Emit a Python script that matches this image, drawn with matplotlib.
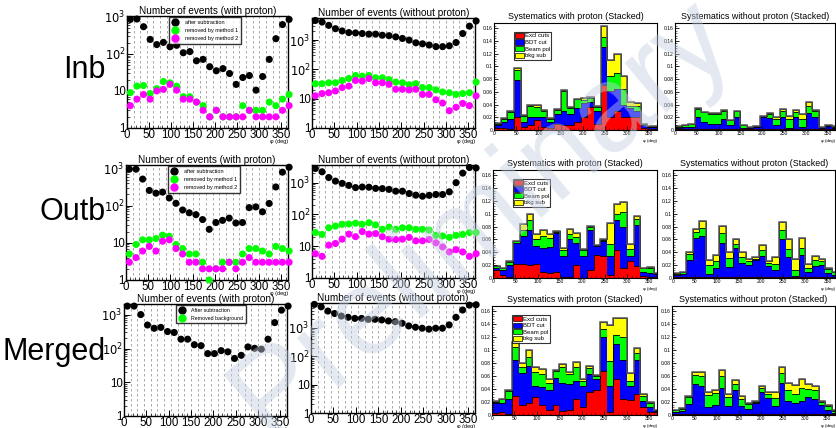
import matplotlib.pyplot as plt
import numpy as np
from matplotlib.patches import Patch
from matplotlib.lines import Line2D
from matplotlib.ticker import FixedLocator, FixedFormatter, MultipleLocator, NullFormatter

plt.rcParams["font.family"] = ["Liberation Sans", "DejaVu Sans"]

# phi bins (15 deg), the last one repeats the first bin past 360
phi_centers = np.arange(7.5, 375, 15)
phi_edges = np.arange(0, 390, 15)

# ---- event counts, Inb
inb_p_after = [850, 870, 540, 245, 178, 204, 155, 170, 107, 115, 65, 71, 45, 35, 40, 29.5, 15, 23, 26, 10.5, 24.5, 71, 257, 617, 850]
inb_p_m1 = [9, 13.5, 14, 8.5, 11.5, 18, 16.5, 13.5, 7, 7, 5, 4, 2, 3, 2, 2, 2, 4, 3, 3, 3, 5, 4, 6, 8]
inb_p_m2 = [4, 6, 8, 6, 10, 11, 15, 10.5, 6, 6, 5, 3, 2, 3, 2, 2, 2, 2, 3, 2, 2, 2, 2, 3, 4]
inb_n_after = [4700, 4150, 3200, 2460, 2060, 1810, 1760, 1680, 1600, 1600, 1470, 1420, 1290, 1140, 1000, 810, 750, 680, 600, 600, 640, 830, 1680, 3000, 4500]
inb_n_m1 = [32.5, 32.5, 35, 35, 42, 49, 62, 59, 62, 52, 52, 45, 37, 35, 30, 32.5, 24, 24, 20, 17, 16, 14, 15, 16, 37]
inb_n_m2 = [12.5, 15, 16, 18.4, 24, 27, 42, 40, 49, 35, 35, 31, 21, 21, 20, 21, 14, 14, 9.2, 7.1, 3.9, 5.1, 6.9, 5.8, 12.5]

# ---- event counts, Outb
outb_p_after = [950, 950, 515, 255, 215, 230, 160, 115, 76, 64, 57, 42, 23, 35, 40, 46, 34, 35, 88, 92, 68, 114, 316, 790, 1070]
outb_p_m1 = [5, 9, 12, 12, 13, 16, 15, 9, 7, 5, 5, 3, 1, 2, 3, 3, 3, 5, 7, 7, 6, 5, 8, 7, 6]
outb_p_m2 = [3, 4, 6, 8, 6, 11, 12, 7, 5, 3, 3, 2, 2, 2, 2, 3, 2, 3, 4, 3, 3, 3, 3, 3, 3]
outb_n_after = [2800, 2200, 1450, 1120, 950, 820, 700, 730, 720, 660, 650, 615, 540, 540, 455, 405, 375, 400, 425, 425, 515, 1000, 2000, 3000, 2900]
outb_n_m1 = [27, 23.5, 38, 43, 49, 50, 53, 49, 55, 47, 34, 40, 34, 38, 38, 34, 34, 32, 22, 21, 19, 22, 23.5, 27, 27]
outb_n_m2 = [5.8, 4.8, 10.8, 12.2, 16.7, 24, 20, 29, 24, 25, 20, 16.7, 16.3, 16.7, 19, 14.8, 14.8, 16.3, 12.8, 9.5, 6.6, 7.8, 6.6, 4.8, 5.8]

# ---- event counts, Merged
mrg_p_after = [1820, 1820, 1020, 500, 400, 425, 320, 300, 190, 190, 130, 122, 71, 71, 87, 80, 51, 63, 112, 102, 96, 190, 590, 1380, 1820]
mrg_p_bkg = [15.6, 24.5, 29, 23, 27, 38, 34, 24.5, 15.6, 13, 10.7, 7.6, 3.4, 5.7, 5.7, 5.7, 5.7, 10, 10.7, 10.7, 10, 10.7, 12.5, 14, 15]
mrg_n_after = [6700, 5500, 3900, 3200, 2600, 2350, 2150, 2150, 2000, 2000, 1900, 1750, 1650, 1450, 1170, 1050, 970, 900, 970, 970, 1270, 2350, 4250, 6300, 6500]
mrg_n_bkg = [18.5, 20, 26, 28.5, 39, 51, 59, 62, 67, 55, 51, 47, 34, 36, 36, 34, 27.5, 28.5, 20, 15.3, 11, 12.7, 13.4, 10.8, 18.5]

# ---- systematics, stacked: top of each layer (Excl cuts, +BDT cut, +Beam pol, +bkg sub)
inb_p_excl = [0.003, 0.003, 0.002, 0.02, 0.004, 0.008, 0.015, 0.005, 0.003, 0.01, 0.008, 0.008, 0.012, 0.02, 0.036, 0.01, 0.07, 0.02, 0.03, 0.02, 0.02, 0.02, 0.003, 0.002, 0.002]
inb_p_bdt = [0.008, 0.012, 0.018, 0.078, 0.012, 0.02, 0.02, 0.02, 0.012, 0.025, 0.03, 0.025, 0.034, 0.043, 0.044, 0.03, 0.13, 0.062, 0.065, 0.04, 0.035, 0.03, 0.008, 0.004, 0.004]
inb_p_pol = [0.01, 0.018, 0.028, 0.094, 0.022, 0.037, 0.036, 0.03, 0.018, 0.032, 0.062, 0.035, 0.048, 0.047, 0.05, 0.036, 0.146, 0.085, 0.09, 0.065, 0.037, 0.038, 0.009, 0.005, 0.005]
inb_p_bkg = [0.011, 0.019, 0.03, 0.098, 0.024, 0.04, 0.039, 0.031, 0.019, 0.033, 0.063, 0.036, 0.049, 0.05, 0.052, 0.038, 0.164, 0.11, 0.12, 0.085, 0.044, 0.043, 0.01, 0.006, 0.006]

inb_n_excl = [0.001, 0.001, 0.001, 0.001, 0.001, 0.001, 0.001, 0.001, 0.001, 0.001, 0.001, 0.001, 0.001, 0.001, 0.001, 0.001, 0.001, 0.001, 0.001, 0.001, 0.001, 0.001, 0.001, 0.001, 0.001]
inb_n_bdt = [0.003, 0.004, 0.005, 0.02, 0.013, 0.01, 0.01, 0.017, 0.008, 0.02, 0.003, 0.003, 0.005, 0.02, 0.019, 0.008, 0.02, 0.003, 0.02, 0.005, 0.027, 0.02, 0.003, 0.007, 0.003]
inb_n_pol = [0.005, 0.008, 0.01, 0.033, 0.028, 0.025, 0.025, 0.03, 0.015, 0.03, 0.008, 0.004, 0.007, 0.022, 0.025, 0.018, 0.03, 0.018, 0.028, 0.018, 0.038, 0.03, 0.005, 0.008, 0.005]
inb_n_bkg = [0.006, 0.008, 0.01, 0.034, 0.029, 0.027, 0.027, 0.032, 0.015, 0.03, 0.008, 0.004, 0.007, 0.022, 0.026, 0.02, 0.033, 0.022, 0.032, 0.025, 0.044, 0.032, 0.005, 0.008, 0.006]

outb_p_excl = [0.012, 0.005, 0.002, 0.022, 0.022, 0.021, 0.022, 0.01, 0.008, 0.01, 0.002, 0.002, 0.02, 0.0, 0.013, 0.036, 0.034, 0.005, 0.043, 0.015, 0.026, 0.018, 0.003, 0.002, 0.002]
outb_p_bdt = [0.016, 0.012, 0.02, 0.055, 0.065, 0.074, 0.05, 0.046, 0.048, 0.07, 0.035, 0.06, 0.055, 0.035, 0.075, 0.05, 0.058, 0.035, 0.09, 0.08, 0.035, 0.082, 0.01, 0.008, 0.006]
outb_p_pol = [0.018, 0.015, 0.025, 0.057, 0.074, 0.09, 0.06, 0.066, 0.062, 0.072, 0.044, 0.068, 0.064, 0.043, 0.079, 0.051, 0.059, 0.053, 0.1, 0.103, 0.045, 0.092, 0.015, 0.016, 0.008]
outb_p_bkg = [0.018, 0.015, 0.027, 0.058, 0.084, 0.1, 0.068, 0.075, 0.068, 0.073, 0.047, 0.077, 0.07, 0.045, 0.081, 0.051, 0.06, 0.086, 0.115, 0.118, 0.053, 0.097, 0.016, 0.017, 0.008]

outb_n_excl = [0.001, 0.001, 0.001, 0.001, 0.001, 0.001, 0.001, 0.001, 0.001, 0.001, 0.001, 0.001, 0.001, 0.001, 0.001, 0.001, 0.001, 0.001, 0.001, 0.001, 0.001, 0.001, 0.001, 0.001, 0.001]
outb_n_bdt = [0.004, 0.006, 0.028, 0.063, 0.065, 0.007, 0.015, 0.055, 0.017, 0.047, 0.023, 0.02, 0.028, 0.035, 0.018, 0.013, 0.06, 0.032, 0.003, 0.036, 0.01, 0.018, 0.02, 0.008, 0.005]
outb_n_pol = [0.007, 0.009, 0.038, 0.072, 0.078, 0.02, 0.027, 0.07, 0.031, 0.053, 0.033, 0.026, 0.03, 0.044, 0.024, 0.022, 0.074, 0.045, 0.013, 0.046, 0.015, 0.028, 0.027, 0.014, 0.01]
outb_n_bkg = [0.008, 0.01, 0.04, 0.076, 0.088, 0.028, 0.036, 0.081, 0.04, 0.06, 0.041, 0.029, 0.032, 0.051, 0.026, 0.033, 0.087, 0.06, 0.03, 0.062, 0.022, 0.034, 0.029, 0.016, 0.01]

mrg_p_excl = [0.003, 0.004, 0.002, 0.03, 0.016, 0.019, 0.027, 0.015, 0.008, 0.015, 0.006, 0.007, 0.024, 0.013, 0.036, 0.038, 0.068, 0.005, 0.056, 0.024, 0.023, 0.033, 0.012, 0.005, 0.004]
mrg_p_bdt = [0.018, 0.018, 0.025, 0.085, 0.065, 0.075, 0.045, 0.043, 0.038, 0.057, 0.05, 0.048, 0.052, 0.045, 0.063, 0.055, 0.12, 0.045, 0.11, 0.085, 0.045, 0.085, 0.022, 0.012, 0.006]
mrg_p_pol = [0.02, 0.024, 0.037, 0.105, 0.074, 0.09, 0.066, 0.063, 0.05, 0.068, 0.074, 0.063, 0.074, 0.053, 0.072, 0.06, 0.133, 0.083, 0.124, 0.12, 0.053, 0.095, 0.03, 0.018, 0.008]
mrg_p_bkg = [0.021, 0.024, 0.039, 0.112, 0.08, 0.1, 0.074, 0.071, 0.056, 0.07, 0.078, 0.066, 0.081, 0.056, 0.076, 0.062, 0.143, 0.138, 0.15, 0.15, 0.065, 0.103, 0.032, 0.02, 0.008]

mrg_n_excl = [0.001, 0.001, 0.001, 0.001, 0.001, 0.001, 0.001, 0.001, 0.001, 0.001, 0.001, 0.001, 0.001, 0.001, 0.001, 0.001, 0.001, 0.001, 0.001, 0.001, 0.001, 0.001, 0.001, 0.001, 0.001]
mrg_n_bdt = [0.004, 0.006, 0.017, 0.048, 0.045, 0.012, 0.016, 0.042, 0.014, 0.038, 0.014, 0.01, 0.018, 0.035, 0.026, 0.014, 0.05, 0.022, 0.018, 0.022, 0.028, 0.025, 0.015, 0.008, 0.003]
mrg_n_pol = [0.007, 0.01, 0.028, 0.062, 0.06, 0.031, 0.034, 0.06, 0.027, 0.048, 0.024, 0.017, 0.02, 0.042, 0.033, 0.026, 0.064, 0.038, 0.032, 0.042, 0.04, 0.039, 0.02, 0.014, 0.006]
mrg_n_bkg = [0.008, 0.011, 0.03, 0.066, 0.067, 0.036, 0.039, 0.069, 0.033, 0.054, 0.029, 0.019, 0.022, 0.045, 0.036, 0.035, 0.074, 0.05, 0.046, 0.055, 0.048, 0.045, 0.022, 0.016, 0.007]

row_names = ["Inb", "Outb", "Merged"]
sys_labels = ["Excl cuts", "BDT cut", "Beam pol", "bkg sub"]
sys_colors = ["#ff0000", "#0000ff", "#00ff00", "#ffff00"]

W, H = 837, 428


def px_axes(fig, x0, y0, x1, y1):
    return fig.add_axes([x0 / W, 1 - y1 / H, (x1 - x0) / W, (y1 - y0) / H])


def style_frame(ax, lw=1.0):
    for s in ax.spines.values():
        s.set_linewidth(lw)
    ax.tick_params(direction="in", which="both", top=False, right=False)


def counts_panel(ax, series, colors, ymax, title, legend=None, legend_anchor=None):
    style_frame(ax)
    ax.set_yscale("log")
    ax.set_xlim(0, 365)
    ax.set_ylim(1, ymax)
    for x in np.arange(15, 365, 15):
        ax.axvline(x, color="#9a9a9a", lw=0.6, ls=(0, (3, 3)), zorder=0)
    for vals, c in zip(series, colors):
        ax.scatter(phi_centers, vals, s=26, color=c, edgecolors="none", zorder=3, clip_on=False)
    ax.xaxis.set_major_locator(MultipleLocator(50))
    ax.xaxis.set_minor_locator(MultipleLocator(10))
    ax.yaxis.set_major_locator(FixedLocator([1, 10, 100, 1000]))
    ax.yaxis.set_major_formatter(FixedFormatter(["1", "10", "$10^2$", "$10^3$"]))
    ax.yaxis.set_minor_locator(FixedLocator([m * 10 ** d for d in range(4) for m in range(2, 10)]))
    ax.yaxis.set_minor_formatter(NullFormatter())
    ax.tick_params(labelsize=8.3, pad=1, length=4, width=0.7)
    ax.tick_params(which="minor", length=2, width=0.5)
    ax.set_title(title, fontsize=7.2, pad=1)
    ax.text(1.0, -0.1, "φ (deg)", transform=ax.transAxes, ha="right", va="top", fontsize=4.0)
    if legend:
        leg_handles = [Line2D([], [], ls="none", marker="o", ms=5, color=c) for c in colors]
        leg = ax.legend(leg_handles, legend, loc="upper left", bbox_to_anchor=legend_anchor[0],
                        fontsize=legend_anchor[1], frameon=True, fancybox=False, borderpad=0.5,
                        labelspacing=0.55, handletextpad=1.2, handlelength=1.2, borderaxespad=0)
        leg.get_frame().set_edgecolor("black")
        leg.get_frame().set_linewidth(1.0)


def stack_panel(ax, tops, title, legend=False):
    style_frame(ax, 0.8)
    ax.set_xlim(0, 367)
    ax.set_ylim(0, 0.168)
    prev = np.zeros(len(phi_centers))
    for top, c in zip(tops, sys_colors):
        top = np.maximum(np.asarray(top), prev)
        ax.stairs(top, phi_edges, baseline=prev, fill=True, color=c, lw=0)
        ax.stairs(top, phi_edges, baseline=None, color="black", lw=0.6)
        prev = top
    ax.stairs(prev, phi_edges, baseline=None, color="#555555", lw=1.1)
    ax.xaxis.set_major_locator(MultipleLocator(50))
    ax.xaxis.set_minor_locator(MultipleLocator(10))
    ax.yaxis.set_major_locator(MultipleLocator(0.02))
    ax.yaxis.set_minor_locator(MultipleLocator(0.004))
    ax.yaxis.set_major_formatter(FixedFormatter(["", "0", "0.02", "0.04", "0.06", "0.08", "0.1", "0.12", "0.14", "0.16"]))
    ax.tick_params(labelsize=3.6, pad=1, length=3, width=0.6)
    ax.tick_params(which="minor", length=1.5, width=0.4)
    ax.set_title(title, fontsize=6.4, pad=3)
    ax.text(1.0, -0.085, "φ (deg)", transform=ax.transAxes, ha="right", va="top", fontsize=3.2)
    if legend:
        hs = [Patch(facecolor=c, edgecolor="black", lw=0.5) for c in sys_colors]
        leg = ax.legend(hs, sys_labels, loc="upper left", bbox_to_anchor=(0.12, 0.92), fontsize=4.3,
                        frameon=True, fancybox=False, borderpad=0.2, labelspacing=0.15,
                        handlelength=1.5, handleheight=1.0, handletextpad=0.2, borderaxespad=0)
        leg.get_frame().set_edgecolor("black")
        leg.get_frame().set_linewidth(0.8)


fig = plt.figure(figsize=(W / 100, H / 100), dpi=100)

rows = [
    dict(px=[(127, 16, 288, 128), (312, 18, 475, 128), (494, 23, 657, 130), (675, 23, 835, 130)],
         p=[inb_p_after, inb_p_m1, inb_p_m2], n=[inb_n_after, inb_n_m1, inb_n_m2], ymax=(1050, 5700),
         sp=[inb_p_excl, inb_p_bdt, inb_p_pol, inb_p_bkg], sn=[inb_n_excl, inb_n_bdt, inb_n_pol, inb_n_bkg],
         leg=["after subtraction", "removed by method 1", "removed by method 2"], label_y=70),
    dict(px=[(126, 165, 288, 280), (312, 165, 475, 278), (493, 170, 657, 278), (673, 170, 835, 278)],
         p=[outb_p_after, outb_p_m1, outb_p_m2], n=[outb_n_after, outb_n_m1, outb_n_m2], ymax=(1230, 3600),
         sp=[outb_p_excl, outb_p_bdt, outb_p_pol, outb_p_bkg], sn=[outb_n_excl, outb_n_bdt, outb_n_pol, outb_n_bkg],
         leg=["after subtraction", "removed by method 1", "removed by method 2"], label_y=212),
    dict(px=[(124, 304, 287, 416), (311, 303, 475, 413), (492, 306, 657, 415), (672, 306, 835, 415)],
         p=[mrg_p_after, mrg_p_bkg], n=[mrg_n_after, mrg_n_bkg], ymax=(2100, 7500),
         sp=[mrg_p_excl, mrg_p_bdt, mrg_p_pol, mrg_p_bkg], sn=[mrg_n_excl, mrg_n_bdt, mrg_n_pol, mrg_n_bkg],
         leg=["After subtraction", "Removed background"], label_y=352),
]

for name, r in zip(row_names, rows):
    cols = ["#000000", "#00ff00", "#ff00ff"][: len(r["p"])]
    anchor = ((0.26, 0.99), 4.0) if len(r["p"]) == 3 else ((0.32, 0.99), 3.8)
    a1 = px_axes(fig, *r["px"][0])
    counts_panel(a1, r["p"], cols, r["ymax"][0], "Number of events (with proton)", legend=r["leg"], legend_anchor=anchor)
    a2 = px_axes(fig, *r["px"][1])
    counts_panel(a2, r["n"], cols, r["ymax"][1], "Number of events (without proton)")
    a3 = px_axes(fig, *r["px"][2])
    stack_panel(a3, r["sp"], "Systematics with proton (Stacked)", legend=True)
    a4 = px_axes(fig, *r["px"][3])
    stack_panel(a4, r["sn"], "Systematics without proton (Stacked)")
    fig.text(106 / W, 1 - r["label_y"] / H, name, ha="right", va="center", fontsize=22)

fig.text(0.575, 0.49, "Preliminary", rotation=40, ha="center", va="center", fontsize=88,
         color="#c4cee0", alpha=0.45, zorder=10)

fig.savefig("out.png", dpi=100)
